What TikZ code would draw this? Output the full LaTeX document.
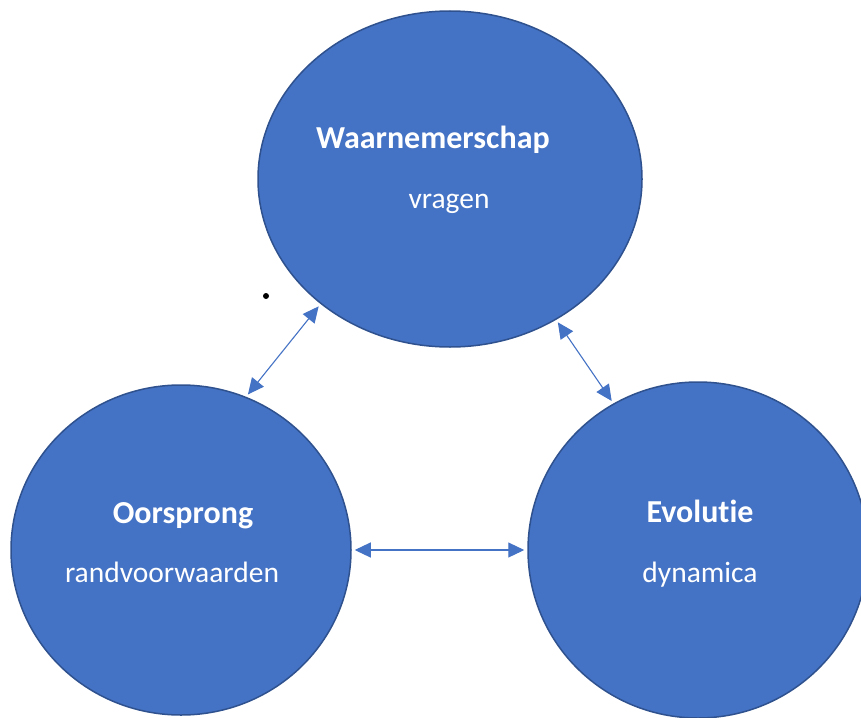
\documentclass[tikz,border=0pt]{standalone}
\usepackage{fontspec}
\setmainfont[RawFeature={-liga}]{Carlito}
\usetikzlibrary{shapes.geometric,arrows.meta}
\definecolor{fillblue}{HTML}{4472C4}
\definecolor{edgeblue}{HTML}{2F528F}
\tikzset{
  bubble/.style={ellipse, draw=edgeblue, line width=1.5pt, fill=fillblue, inner sep=0pt},
  title/.style={anchor=base, text=white, font=\fontsize{32}{38}\selectfont\bfseries, inner sep=0pt},
  sub/.style={anchor=base, text=white, font=\fontsize{29.5}{35}\selectfont, inner sep=0pt},
  link/.style={draw=fillblue, line width=1.1pt, {Triangle[length=16pt,width=15pt]}-{Triangle[length=16pt,width=15pt]}, shorten <=3pt, shorten >=3pt}
}
\begin{document}
\begin{tikzpicture}[x=1pt,y=-1pt]
\useasboundingbox (0,0) rectangle (861,717);
\clip (0,0) rectangle (861,717);
\node[bubble, minimum width=384pt, minimum height=336pt] (top) at (450,179) {};
\node[bubble, minimum width=340pt, minimum height=330pt] (left) at (181,550) {};
\node[bubble, minimum width=340pt, minimum height=336pt] (right) at (698,550) {};
\node[title] (t1) at (433,148) {Waarnemerschap};
\node[sub] (s1) at (449,208) {vragen};
\node[title] (t2) at (183,523) {Oorsprong};
\node[sub] (s2) at (172,582) {randvoorwaarden};
\node[title] (t3) at (700,522) {Evolutie};
\node[sub] (s3) at (700,582) {dynamica};
\fill[black] (266,296) circle (3);
\draw[link] (left.67) -- (top.224);
\draw[link] (top.307) -- (right.120);
\draw[link] (left.0) -- (right.180);
\end{tikzpicture}
\end{document}
